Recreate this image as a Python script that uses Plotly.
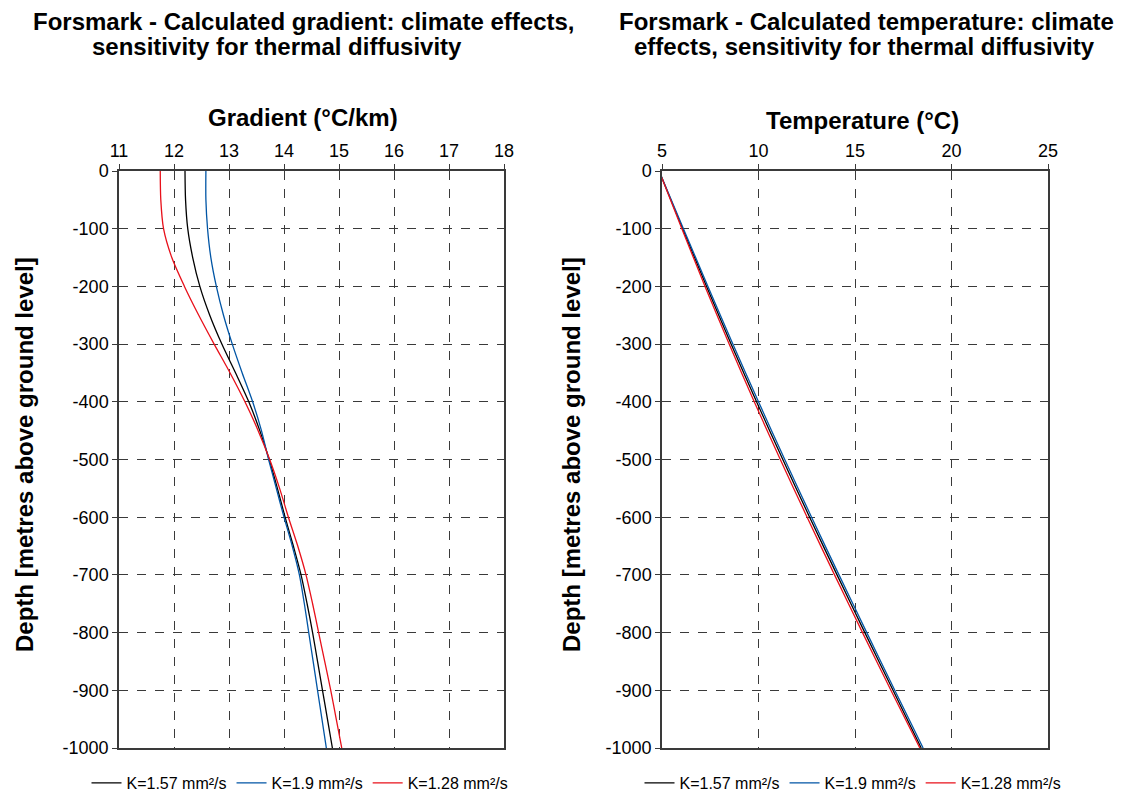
import plotly.graph_objects as go

# ---- data ----
grad_depth = [0, -50, -100, -150, -200, -250, -300, -350, -400, -450, -500,
              -550, -600, -650, -700, -750, -800, -850, -900, -950, -1000]
grad_k157 = [12.20, 12.21, 12.25, 12.34, 12.47, 12.65, 12.87, 13.12, 13.36, 13.56, 13.73,
             13.88, 14.02, 14.17, 14.31, 14.42, 14.52, 14.61, 14.70, 14.79, 14.88]
grad_k190 = [12.58, 12.58, 12.61, 12.67, 12.77, 12.90, 13.06, 13.24, 13.43, 13.59, 13.72,
             13.86, 14.00, 14.15, 14.28, 14.37, 14.45, 14.53, 14.61, 14.69, 14.77]
grad_k128 = [11.75, 11.76, 11.81, 11.96, 12.19, 12.45, 12.73, 13.02, 13.29, 13.53, 13.74,
             13.92, 14.08, 14.25, 14.40, 14.52, 14.63, 14.74, 14.85, 14.95, 15.05]

temp_depth = [0, -100, -200, -300, -400, -500, -600, -700, -800, -900, -1000]
temp_k157 = [4.85, 6.07, 7.31, 8.58, 9.90, 11.26, 12.65, 14.07, 15.51, 16.97, 18.43]
temp_k190 = [4.85, 6.11, 7.38, 8.67, 10.00, 11.36, 12.75, 14.17, 15.61, 17.06, 18.53]
temp_k128 = [4.85, 6.03, 7.23, 8.48, 9.78, 11.13, 12.52, 13.94, 15.39, 16.86, 18.36]

series_names = ["K=1.57 mm²/s", "K=1.9 mm²/s", "K=1.28 mm²/s"]
series_colors = ["#000000", "#0055A5", "#E8101A"]

depth_ticks = [0, -100, -200, -300, -400, -500, -600, -700, -800, -900, -1000]
depth_labels = ["0", "-100", "-200", "-300", "-400", "-500", "-600", "-700", "-800", "-900", "-1000"]

FONT = "Liberation Sans, Arial, sans-serif"

fig = go.Figure()

for name, col, xs in zip(series_names, series_colors, [grad_k157, grad_k190, grad_k128]):
    fig.add_trace(go.Scatter(x=xs, y=grad_depth, mode="lines", name=name,
                             line=dict(color=col, width=1.3, shape="spline", smoothing=0.8),
                             xaxis="x", yaxis="y", legend="legend"))

for name, col, xs in zip(series_names, series_colors, [temp_k157, temp_k190, temp_k128]):
    fig.add_trace(go.Scatter(x=xs, y=temp_depth, mode="lines", name=name,
                             line=dict(color=col, width=1.3, shape="spline", smoothing=0.8),
                             xaxis="x2", yaxis="y2", legend="legend2"))

W, H = 1129, 794
def px(x):
    return x / W
def py(y):
    return 1 - y / H

axis_common = dict(showline=True, linecolor="#3a3a3a", linewidth=1.5, mirror=True,
                   showgrid=True, gridcolor="#3a3a3a", gridwidth=1, griddash="dash",
                   ticks="outside", ticklen=5, tickcolor="#3a3a3a",
                   tickfont=dict(family=FONT, size=18, color="#000000"),
                   zeroline=False, automargin=False)

fig.update_layout(
    width=W, height=H,
    margin=dict(l=0, r=0, t=0, b=0, autoexpand=False),
    paper_bgcolor="white", plot_bgcolor="white",
    font=dict(family=FONT, color="#000000"),
    xaxis=dict(domain=[px(119), px(504)], range=[11, 18], dtick=1, tick0=11,
               side="top", anchor="y", **axis_common),
    yaxis=dict(domain=[py(748), py(171)], range=[-1000, 0],
               tickvals=depth_ticks, ticktext=depth_labels, anchor="x", **axis_common),
    xaxis2=dict(domain=[px(662), px(1048)], range=[5, 25], dtick=5, tick0=5,
                side="top", anchor="y2", **axis_common),
    yaxis2=dict(domain=[py(748), py(171)], range=[-1000, 0],
                tickvals=depth_ticks, ticktext=depth_labels, anchor="x2", **axis_common),
    legend=dict(orientation="h", x=px(300), xanchor="center", y=py(783), yanchor="middle",
                font=dict(family=FONT, size=16), itemwidth=30, bgcolor="rgba(0,0,0,0)",
                tracegroupgap=0),
    legend2=dict(orientation="h", x=px(853), xanchor="center", y=py(783), yanchor="middle",
                 font=dict(family=FONT, size=16), itemwidth=30, bgcolor="rgba(0,0,0,0)",
                 tracegroupgap=0),
    showlegend=True,
)

bold = dict(family=FONT, size=24, color="#000000")
annotations = [
    dict(text="<b>Forsmark - Calculated gradient: climate effects,</b>", x=px(304), y=py(22)),
    dict(text="<b>sensitivity for thermal diffusivity</b>", x=px(277), y=py(47)),
    dict(text="<b>Forsmark - Calculated temperature: climate</b>", x=px(866), y=py(22)),
    dict(text="<b>effects, sensitivity for thermal diffusivity</b>", x=px(864), y=py(47)),
]
for a in annotations:
    fig.add_annotation(xref="paper", yref="paper", xanchor="center", yanchor="middle",
                       showarrow=False, font=bold, **a)

ax_font = dict(family=FONT, size=24, color="#000000")
fig.add_annotation(text="<b>Gradient (°C/km)</b>", xref="paper", yref="paper",
                   x=px(303), y=py(117), showarrow=False, font=ax_font,
                   xanchor="center", yanchor="middle")
fig.add_annotation(text="<b>Temperature (°C)</b>", xref="paper", yref="paper",
                   x=px(862), y=py(120), showarrow=False, font=ax_font,
                   xanchor="center", yanchor="middle")
fig.add_annotation(text="<b>Depth [metres above ground level]</b>", xref="paper", yref="paper",
                   x=px(25), y=py(455), showarrow=False, font=ax_font, textangle=-90,
                   xanchor="center", yanchor="middle")
fig.add_annotation(text="<b>Depth [metres above ground level]</b>", xref="paper", yref="paper",
                   x=px(572), y=py(455), showarrow=False, font=ax_font, textangle=-90,
                   xanchor="center", yanchor="middle")

fig.write_html("out.html")
